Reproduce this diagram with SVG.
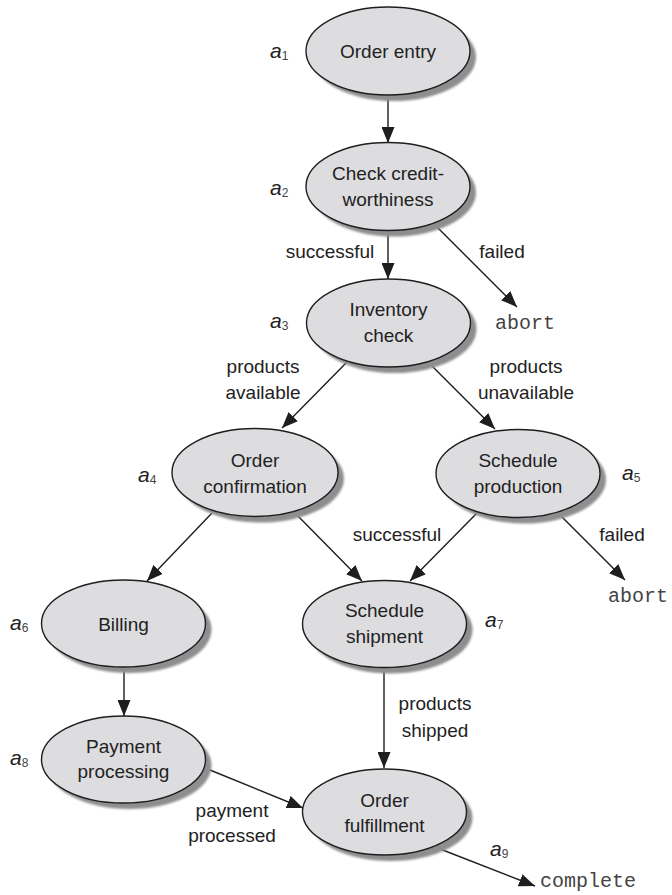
<svg xmlns="http://www.w3.org/2000/svg" width="672" height="895" viewBox="0 0 672 895">
  <defs>
    <marker id="arrow" markerUnits="userSpaceOnUse" markerWidth="16" markerHeight="13" refX="16" refY="6.5" orient="auto">
      <path d="M0,0 L16,6.5 L0,13 z" fill="#1e1e1e"/>
    </marker>
    <filter id="soft" x="-10%" y="-10%" width="120%" height="120%">
      <feGaussianBlur stdDeviation="0.8"/>
    </filter>
  </defs>
  <style>
    .shadow { fill: #8e8e90; filter: url(#soft); }
    .body { fill: #dddde0; stroke: #1e1e1e; stroke-width: 1.4; }
    .label { font-family: "Liberation Sans", Arial, sans-serif; font-size: 19px; fill: #222; text-anchor: middle; }
    .edge-label { font-family: "Liberation Sans", Arial, sans-serif; font-size: 19px; fill: #222; text-anchor: middle; }
    .mono { font-family: "Liberation Mono", "Courier New", monospace; font-size: 20px; fill: #444; }
    .act { font-family: "Liberation Sans", Arial, sans-serif; font-size: 21px; font-style: italic; fill: #222; }
    .act tspan { font-size: 12px; font-style: normal; fill: #444; }
    .conn line { stroke: #1e1e1e; stroke-width: 1.4; marker-end: url(#arrow); }
  </style>

  <rect width="672" height="895" fill="#ffffff"/>

  <!-- connectors -->
  <g id="connectors" class="conn">
    <line x1="388" y1="95" x2="388" y2="143"/>
    <line x1="388" y1="230" x2="388" y2="279"/>
    <line x1="433" y1="223" x2="517" y2="307"/>
    <line x1="347" y1="362" x2="282" y2="428"/>
    <line x1="428" y1="362" x2="495" y2="429"/>
    <line x1="212" y1="513" x2="147" y2="581"/>
    <line x1="295" y1="513" x2="362" y2="581"/>
    <line x1="477" y1="513" x2="410" y2="581"/>
    <line x1="558" y1="513" x2="625" y2="580"/>
    <line x1="124" y1="667" x2="124" y2="716"/>
    <line x1="384" y1="668" x2="384" y2="768"/>
    <line x1="205" y1="768" x2="303" y2="808"/>
    <line x1="435" y1="847" x2="535" y2="886"/>
  </g>

  <!-- edge labels -->
  <g id="edge-labels">
    <text class="edge-label" x="330" y="258">successful</text>
    <text class="edge-label" x="502" y="258">failed</text>
    <text class="mono" x="495" y="329">abort</text>
    <text class="edge-label" x="263" y="373">products</text>
    <text class="edge-label" x="263" y="399">available</text>
    <text class="edge-label" x="526" y="373">products</text>
    <text class="edge-label" x="526" y="399">unavailable</text>
    <text class="edge-label" x="397" y="541">successful</text>
    <text class="edge-label" x="622" y="541">failed</text>
    <text class="mono" x="608" y="602">abort</text>
    <text class="edge-label" x="435" y="710">products</text>
    <text class="edge-label" x="435" y="737">shipped</text>
    <text class="edge-label" x="232" y="817">payment</text>
    <text class="edge-label" x="232" y="842">processed</text>
    <text class="mono" x="540" y="887">complete</text>
  </g>

  <!-- activities -->
  <g id="a1">
    <ellipse class="shadow" cx="394" cy="57" rx="82" ry="44"/>
    <ellipse class="body" cx="388" cy="51" rx="82" ry="44"/>
    <text class="label" x="388" y="58">Order entry</text>
    <text class="act" x="270" y="58">a<tspan dy="2">1</tspan></text>
  </g>
  <g id="a2">
    <ellipse class="shadow" cx="394" cy="192.5" rx="82" ry="44"/>
    <ellipse class="body" cx="388" cy="186.5" rx="82" ry="44"/>
    <text class="label" x="388" y="180">Check credit-</text>
    <text class="label" x="388" y="206">worthiness</text>
    <text class="act" x="270" y="195">a<tspan dy="2">2</tspan></text>
  </g>
  <g id="a3">
    <ellipse class="shadow" cx="394.5" cy="329" rx="82" ry="44"/>
    <ellipse class="body" cx="388.5" cy="323" rx="82" ry="44"/>
    <text class="label" x="388.5" y="316">Inventory</text>
    <text class="label" x="388.5" y="342">check</text>
    <text class="act" x="270" y="328">a<tspan dy="2">3</tspan></text>
  </g>
  <g id="a4">
    <ellipse class="shadow" cx="261" cy="478.5" rx="83" ry="44"/>
    <ellipse class="body" cx="255" cy="472.5" rx="83" ry="44"/>
    <text class="label" x="255" y="467">Order</text>
    <text class="label" x="255" y="493">confirmation</text>
    <text class="act" x="138" y="482">a<tspan dy="2">4</tspan></text>
  </g>
  <g id="a5">
    <ellipse class="shadow" cx="524" cy="479.5" rx="82" ry="44"/>
    <ellipse class="body" cx="518" cy="473.5" rx="82" ry="44"/>
    <text class="label" x="518" y="467">Schedule</text>
    <text class="label" x="518" y="493">production</text>
    <text class="act" x="622" y="480">a<tspan dy="2">5</tspan></text>
  </g>
  <g id="a6">
    <ellipse class="shadow" cx="129.5" cy="629.5" rx="82" ry="43.5"/>
    <ellipse class="body" cx="123.5" cy="623.5" rx="82" ry="43.5"/>
    <text class="label" x="123.5" y="631">Billing</text>
    <text class="act" x="10" y="630">a<tspan dy="2">6</tspan></text>
  </g>
  <g id="a7">
    <ellipse class="shadow" cx="390.5" cy="630" rx="82" ry="43.5"/>
    <ellipse class="body" cx="384.5" cy="624" rx="82" ry="43.5"/>
    <text class="label" x="384.5" y="617">Schedule</text>
    <text class="label" x="384.5" y="643">shipment</text>
    <text class="act" x="485" y="627">a<tspan dy="2">7</tspan></text>
  </g>
  <g id="a8">
    <ellipse class="shadow" cx="129.5" cy="765.5" rx="82" ry="43.5"/>
    <ellipse class="body" cx="123.5" cy="759.5" rx="82" ry="43.5"/>
    <text class="label" x="123.5" y="753">Payment</text>
    <text class="label" x="123.5" y="778">processing</text>
    <text class="act" x="10" y="765">a<tspan dy="2">8</tspan></text>
  </g>
  <g id="a9">
    <ellipse class="shadow" cx="390.5" cy="818" rx="82" ry="43"/>
    <ellipse class="body" cx="384.5" cy="812" rx="82" ry="43"/>
    <text class="label" x="384.5" y="807">Order</text>
    <text class="label" x="384.5" y="832">fulfillment</text>
    <text class="act" x="490" y="856">a<tspan dy="2">9</tspan></text>
  </g>
</svg>
